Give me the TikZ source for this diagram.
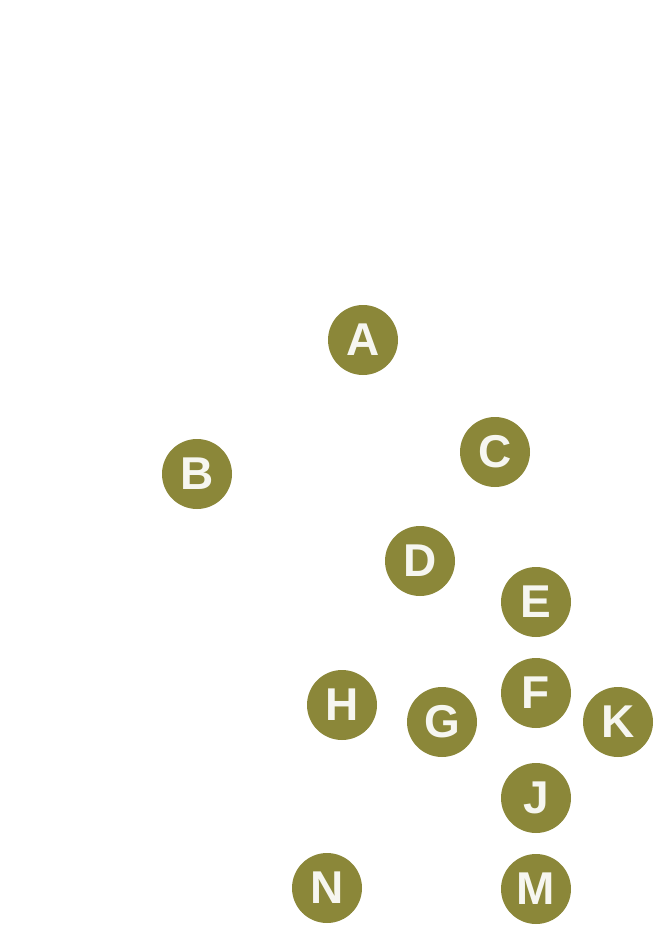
\documentclass[tikz,border=0pt]{standalone}
\usepackage{fontspec}
\setmainfont{Liberation Sans}
\usepackage{tikz}
\definecolor{olivefill}{HTML}{8B8739}
\definecolor{lettercol}{HTML}{F6F6F0}
\newcommand{\vertsize}{70pt}

\begin{document}
\begin{tikzpicture}[x=1pt, y=-1pt]
                %\draw[help lines] (0,0) grid (671,949);
                \tikzset{Vertex/.style = {circle, fill = olivefill, minimum size = \vertsize, inner sep = 0pt,
                        text = lettercol, font = \fontsize{46}{46}\selectfont\bfseries}}
                \useasboundingbox (0,0) rectangle (671,949);

                \node[Vertex] (A) at (363,340) {A};
                \node[Vertex] (B) at (197,474) {B};
                \node[Vertex] (C) at (495,452) {C};
                \node[Vertex] (D) at (420,561) {D};
                \node[Vertex] (E) at (536,602) {E};
                \node[Vertex] (F) at (536,693) {F};
                \node[Vertex] (K) at (618,722) {K};
                \node[Vertex] (H) at (342,705) {H};
                \node[Vertex] (G) at (442,722) {G};
                \node[Vertex] (J) at (536,798) {J};
                \node[Vertex] (N) at (327,888) {N};
                \node[Vertex] (M) at (536,889) {M};
        \end{tikzpicture}
\end{document}
